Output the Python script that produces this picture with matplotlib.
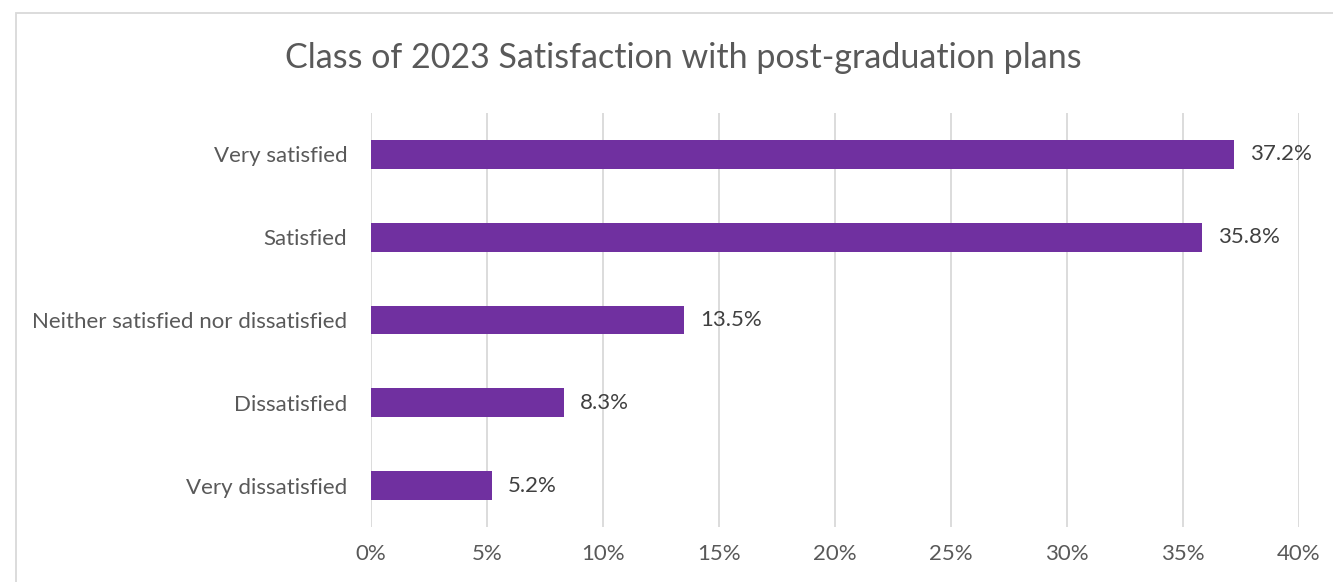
import matplotlib.pyplot as plt
from matplotlib.patches import Rectangle

categories = ["Very satisfied", "Satisfied", "Neither satisfied nor dissatisfied",
              "Dissatisfied", "Very dissatisfied"]
values = [37.2, 35.8, 13.5, 8.3, 5.2]
ticks = [0, 5, 10, 15, 20, 25, 30, 35, 40]
tick_labels = [f"{t}%" for t in ticks]

plt.rcParams['font.family'] = ['Lato', 'DejaVu Sans']
text_col = '#595959'
grid_col = '#D9D9D9'

W, H = 1333, 582
fig = plt.figure(figsize=(W / 100, H / 100), dpi=100)
ax = fig.add_axes([371 / W, 1 - 527 / H, (1299 - 371) / W, (527 - 113) / H])

y = list(range(len(categories)))
ax.barh(y, values, height=0.35, color='#7030A0', zorder=3)
for yi, v in zip(y, values):
    ax.text(v + 0.7, yi, f"{v}%", va='center', ha='left', fontsize=16, color='#404040')

ax.set_xlim(0, 40)
ax.set_ylim(len(categories) - 0.5, -0.5)
ax.set_yticks(y)
ax.set_yticklabels(categories, fontsize=16, color=text_col)
ax.set_xticks(ticks)
ax.set_xticklabels(tick_labels, fontsize=16, color=text_col)
ax.tick_params(axis='both', length=0)
ax.tick_params(axis='y', pad=17)
ax.tick_params(axis='x', pad=12)
ax.grid(axis='x', color=grid_col, linewidth=1.3, zorder=0)
for s in ax.spines.values():
    s.set_visible(False)

fig.text(683 / W, 1 - 58 / H, "Class of 2023 Satisfaction with post-graduation plans",
         ha='center', va='center', fontsize=24.5, color=text_col)

fig.patches.append(Rectangle((16 / W, -0.1), 1.2, 1 - 13 / H + 0.1, transform=fig.transFigure,
                             fill=False, edgecolor=grid_col, linewidth=1.3))

fig.savefig("out.png", dpi=100)
